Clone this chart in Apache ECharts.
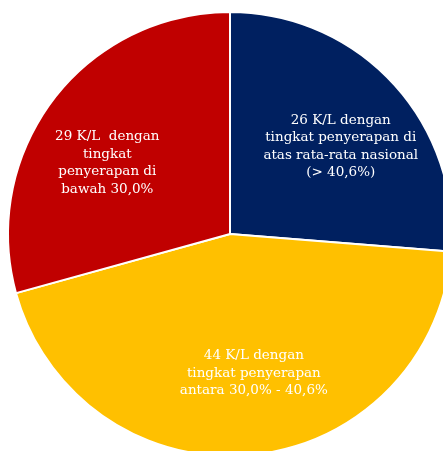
<!DOCTYPE html>
<html>
<head>
<meta charset="utf-8">
<script src="https://cdn.jsdelivr.net/npm/echarts@6/dist/echarts.min.js"></script>
<style>
html,body{margin:0;padding:0;background:#fff;}
#c{width:443px;height:451px;}
</style>
</head>
<body>
<div id="c"></div>
<script>
// Data
var values = [26, 44, 29];
var labelTexts = [
  '{v} K/L dengan\ntingkat penyerapan di\natas rata-rata nasional\n(> 40,6%)',
  '{v} K/L dengan\ntingkat penyerapan\nantara 30,0% - 40,6%',
  '{v} K/L  dengan\ntingkat\npenyerapan di\nbawah 30,0%'
];
var colors = ['#002060', '#FFC000', '#C00000'];
// label nudges (px) from default inside position
var labelOffsets = [[27, -10], [13, 26], [-32, -2]];

var chart = echarts.init(document.getElementById('c'), null, {renderer: 'canvas'});
chart.setOption({
  animation: false,
  series: [{
    type: 'pie',
    center: [230, 234],
    radius: [0, 222],
    startAngle: 90,
    clockwise: true,
    avoidLabelOverlap: false,
    itemStyle: {borderColor: '#ffffff', borderWidth: 2},
    label: {
      show: true,
      position: 'inside',
      color: '#ffffff',
      fontFamily: 'DejaVu Serif',
      fontSize: 13.5,
      lineHeight: 17.5,
      align: 'center',
      formatter: function (p) { return labelTexts[p.dataIndex].replace('{v}', p.value); }
    },
    labelLayout: function (p) {
      return {dx: labelOffsets[p.dataIndex][0], dy: labelOffsets[p.dataIndex][1]};
    },
    emphasis: {disabled: true},
    data: values.map(function (v, i) {
      return {value: v, itemStyle: {color: colors[i]}};
    })
  }]
});
</script>
</body>
</html>
